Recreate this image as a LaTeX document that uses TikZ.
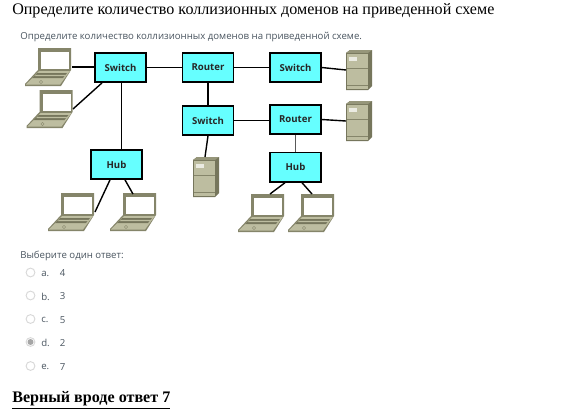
\documentclass[tikz,border=0pt]{standalone}
\usepackage{fontspec}
\setmainfont{Liberation Serif}
\newfontfamily\uisans{Open Sans}
\newfontfamily\boxsans{Open Sans}
\definecolor{boxcyan}{HTML}{66FFFF}
\definecolor{devbody}{HTML}{BDBDA0}
\definecolor{devedge}{HTML}{85856A}
\definecolor{devdark}{HTML}{76765C}
\definecolor{uitext}{HTML}{4A5560}
\definecolor{radioedge}{HTML}{D8D8D8}
\tikzset{
  x=0.75pt,y=-0.75pt,
  netbox/.style={draw=black,line width=1.1pt,fill=boxcyan,minimum width=38.2pt,minimum height=22pt,inner sep=0pt,font=\boxsans\bfseries\fontsize{7.2}{9}\selectfont,text=black!85},
  link/.style={draw=black,line width=1.05pt},
  thinlink/.style={draw=black,line width=0.75pt},
  heading/.style={anchor=west,inner sep=0pt,font=\fontsize{12.07}{14}\selectfont,text=black},
  uilabel/.style={anchor=west,inner sep=0pt,font=\uisans\fontsize{7.23}{9}\selectfont,text=uitext},
  radio/.style={circle,draw=radioedge,line width=0.7pt,fill=white,minimum size=6.6pt,inner sep=0pt},
  laptop/.pic={
    \fill[devedge] (13,0) -- (46,0) -- (46,22) -- (36,38) -- (0,38) -- (0,36) -- (13,22) -- cycle;
    \fill[white] (16,4) -- (44,4) -- (44,21) -- (16,21) -- cycle;
    \fill[devbody] (14,23) -- (45,23) -- (35,36.5) -- (1,36.5) -- cycle;
    \fill[devdark] (12.5,25) -- (42,25) -- (38,30) -- (7,30) -- cycle;
    \fill[devbody] (11,26.8) -- (41,26.8) -- (40,28) -- (10,28) -- cycle;
    \draw[devedge,line width=0.3pt] (16,34) circle (1.6);
  },
  server/.pic={
    \fill[devdark] (0,3) -- (4,0) -- (26,0) -- (26,36) -- (22,40) -- (0,40) -- cycle;
    \fill[devbody] (0.8,3.6) -- (21.5,3.6) -- (21.5,39.2) -- (0.8,39.2) -- cycle;
    \fill[devedge!70!devbody] (0,3) -- (4,0) -- (26,0) -- (22,3) -- cycle;
    \fill[white!70!devbody] (2.5,7) rectangle (11,11);
    \draw[devedge,line width=0.5pt] (0.8,18) -- (21.5,18);
    \draw[devedge,line width=0.5pt] (0.8,35) -- (21.5,35);
  }
}
\begin{document}
\begin{tikzpicture}
\useasboundingbox (0,0) rectangle (575,418);
\fill[white] (0,0) rectangle (575,418);
\node[heading] (title) at (12,11) {Определите количество коллизионных доменов на приведенной схеме};
\node[uilabel] (question) at (20,37) {Определите количество коллизионных доменов на приведенной схеме.};

\pic at (25,48) {laptop};
\pic at (26.5,90) {laptop};
\pic at (48,193) {laptop};
\pic at (110,193) {laptop};
\pic at (238,194) {laptop};
\pic at (288,194) {laptop};
\pic at (346,50) {server};
\pic at (346,101) {server};
\pic at (193,157) {server};

\coordinate (lap1) at (72,67);
\coordinate (lap2) at (73,109);
\coordinate (lap3) at (95,212);
\coordinate (lap4) at (133,194);
\coordinate (lap5) at (270,194);
\coordinate (lap6) at (312,194);
\coordinate (srv1) at (346,70);
\coordinate (srv2) at (346,121);
\coordinate (srv3) at (205,157);

\node[netbox] (sw1) at (120.5,67.5) {Switch};
\node[netbox] (ro1) at (208,67.5) {Router};
\node[netbox] (sw2) at (295.5,67.5) {Switch};
\node[netbox] (sw3) at (208,120.5) {Switch};
\node[netbox] (ro2) at (295.5,119.5) {Router};
\node[netbox] (hub2) at (295.5,167.3) {Hub};
\node[netbox] (hub1) at (116.5,164.5) {Hub};

\path[link] (lap1) -- (sw1.west |- lap1);
\path[link] (lap2) -- (102,0 |- sw1.south);
\path[thinlink] (121,0 |- sw1.south) -- (121,0 |- hub1.north);
\path[link] (sw1) -- (ro1);
\path[link] (ro1) -- (sw2);
\path[link] (sw2.east) -- (srv1);
\path[link] (ro1) -- (sw3);
\path[link] (sw3) -- (ro2.west |- sw3);
\path[link] (ro2.east) -- (srv2);
\path[link] (sw3.south) -- (srv3);
\path[link,draw=black!65,line width=1.3pt] (ro2) -- (hub2);
\path[link] (285,0 |- hub2.south) -- (lap5);
\path[link] (302,0 |- hub2.south) -- (lap6);
\path[link] (110,0 |- hub1.south) -- (lap3);
\path[link] (125,0 |- hub1.south) -- (lap4);

\node[uilabel] (prompt) at (20,256) {Выберите один ответ:};
\node[radio] (ra) at (30.5,272.5) {};
\node[radio] (rb) at (30.5,295.5) {};
\node[radio] (rc) at (30.5,319) {};
\node[radio] (rd) at (30.5,342) {};
\node[radio] (re) at (30.5,366) {};
\fill[black!35] (rd.center) circle (3);
\node[uilabel] (la) at (41,273.5) {a.};
\node[uilabel] (lb) at (41,296.5) {b.};
\node[uilabel] (lc) at (41,320) {c.};
\node[uilabel] (ld) at (41,343) {d.};
\node[uilabel] (le) at (41,367) {e.};
\node[uilabel] (va) at (59.5,273.5) {4};
\node[uilabel] (vb) at (59.5,296.5) {3};
\node[uilabel] (vc) at (59.5,320) {5};
\node[uilabel] (vd) at (59.5,343) {2};
\node[uilabel] (ve) at (59.5,367) {7};
\node[heading,font=\bfseries\fontsize{12.07}{14}\selectfont] (answer) at (12,400) {\underline{Верный вроде ответ 7}};
\end{tikzpicture}
\end{document}
